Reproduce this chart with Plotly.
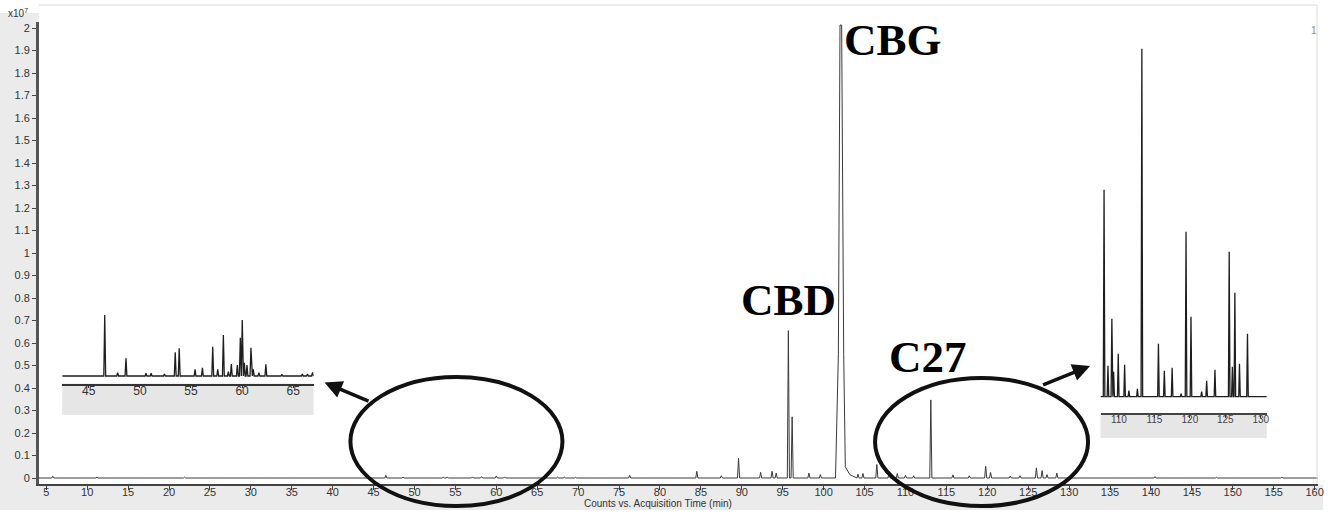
import plotly.graph_objects as go

W, H = 1333, 516

# ---------------- data ----------------
# main chromatogram: retention time (min) and height (x10^7 counts)
MAIN_RT = [5.8, 11.2, 21.9, 46.5, 48.6, 53.5, 54.0, 57.1, 58.2, 60.0, 61.0,
           67.5, 68.3, 69.7, 76.3, 84.5, 87.5, 89.6, 92.3, 93.7, 94.2,
           95.69, 96.15, 98.2, 99.6, 104.2, 104.8, 106.5, 108.0, 109.0,
           110.0, 111.0, 113.1, 115.8, 117.8, 119.8, 120.4, 122.8, 124.0,
           126.0, 126.7, 127.3, 128.5, 140.5, 148.0, 156.0]
MAIN_H = [0.008, 0.004, 0.004, 0.012, 0.004, 0.004, 0.005, 0.005, 0.006,
          0.009, 0.005, 0.004, 0.004, 0.003, 0.012, 0.030, 0.010, 0.088,
          0.025, 0.030, 0.022, 0.655, 0.272, 0.022, 0.015, 0.017, 0.020,
          0.060, 0.025, 0.020, 0.012, 0.010, 0.347, 0.014, 0.010, 0.052,
          0.025, 0.008, 0.010, 0.045, 0.033, 0.015, 0.022, 0.006, 0.003,
          0.004]
# CBG peak profile (broad, tailing)
CBG_RT = [101.45, 101.8, 102.0, 102.2, 102.45, 102.65, 103.2, 104.0]
CBG_H = [0.0, 0.55, 2.013, 2.013, 0.55, 0.05, 0.015, 0.004]

# inset 1 (42-67 min), relative abundance
IN1_RT = [46.56, 47.83, 48.64, 50.6, 51.1, 52.4, 53.46, 53.85, 55.4, 56.12,
          57.13, 57.62, 58.17, 58.66, 58.95, 59.54, 59.83, 60.02, 60.22,
          60.48, 60.87, 61.1, 61.65, 62.33, 63.9, 65.9, 66.4, 66.9]
IN1_H = [61, 3.3, 17.7, 2.7, 2.7, 2, 23.7, 27.7, 6.7, 8.3, 29.3, 6.7, 41,
         4.3, 12, 11, 38.3, 56, 13.3, 11, 28.3, 6.7, 3.3, 11.7, 1.3, 2, 2, 3.7]

# inset 2 (107-131 min), relative abundance
IN2_RT = [107.9, 108.45, 109.0, 109.25, 109.9, 110.8, 111.4, 112.6, 113.23,
          115.57, 116.4, 117.5, 118.76, 119.46, 120.16, 121.66, 122.37,
          123.54, 125.55, 126.0, 126.35, 127.0, 128.13]
IN2_H = [207, 31, 78, 25, 43, 32, 6, 8, 348, 53, 26, 29, 3, 165, 80, 5, 16,
         27, 145, 30, 104, 33, 63]

X_TICKS = list(range(5, 161, 5))
Y_TICKS = [i / 10 for i in range(0, 21)]
Y_TICKTEXT = ["0", "0.1", "0.2", "0.3", "0.4", "0.5", "0.6", "0.7", "0.8",
              "0.9", "1", "1.1", "1.2", "1.3", "1.4", "1.5", "1.6", "1.7",
              "1.8", "1.9", "2"]
IN1_TICKS = [45, 50, 55, 60, 65]
IN2_TICKS = [110, 115, 120, 125, 130]
LABELS = ["CBG", "CBD", "C27"]
X_TITLE = "Counts vs. Acquisition Time (min)"


def build(rt, h, w, start, end, extra_x=(), extra_y=()):
    pts = [(start, 0.0), (end, 0.0)]
    for t, v in zip(rt, h):
        pts += [(t - w, 0.0), (t, v), (t + w, 0.0)]
    pts += list(zip(extra_x, extra_y))
    pts.sort(key=lambda p: p[0])
    return [p[0] for p in pts], [p[1] for p in pts]


def px(x):
    return x / W


def py(y):
    return 1 - y / H


mx, my = build(MAIN_RT, MAIN_H, 0.13, 4.1, 160.4, CBG_RT, CBG_H)
i1x, i1y = build(IN1_RT, IN1_H, 0.09, 42.4, 67.0)
i2x, i2y = build(IN2_RT, IN2_H, 0.11, 107.4, 130.85)

fig = go.Figure()
fig.add_trace(go.Scatter(x=mx, y=my, mode="lines",
                         line=dict(color="#3a3a3a", width=1),
                         xaxis="x", yaxis="y", hoverinfo="skip"))
fig.add_trace(go.Scatter(x=i1x, y=i1y, mode="lines",
                         line=dict(color="#1e1e1e", width=1.3),
                         xaxis="x2", yaxis="y2", hoverinfo="skip"))
fig.add_trace(go.Scatter(x=i2x, y=i2y, mode="lines",
                         line=dict(color="#1e1e1e", width=1.3),
                         xaxis="x3", yaxis="y3", hoverinfo="skip"))

tickfont = dict(family="Liberation Sans Narrow, Liberation Sans, Arial", size=11, color="#333")

# main axes
x_lo_px, x_hi_px = 39, 1324
y_bot_px, y_top_px = 483.5, 22
fig.update_layout(
    width=W, height=H, margin=dict(l=0, r=0, t=0, b=0),
    paper_bgcolor="white", plot_bgcolor="rgba(0,0,0,0)",
    showlegend=False,
    xaxis=dict(domain=[px(x_lo_px), px(x_hi_px)], range=[4.088, 160.42],
               tickvals=X_TICKS, ticks="outside", ticklen=5, tickwidth=1,
               tickcolor="#444", showline=True, linecolor="#444", linewidth=1.5,
               showgrid=False, zeroline=False, tickfont=tickfont, anchor="y",
               ticklabelstandoff=-7),
    yaxis=dict(domain=[py(y_bot_px), py(y_top_px)],
               range=[(478 - y_bot_px) / 225, (478 - y_top_px) / 225],
               tickvals=Y_TICKS, ticktext=Y_TICKTEXT, ticks="outside",
               ticklen=4, tickwidth=1, tickcolor="#444", showline=True,
               linecolor="#555", linewidth=2.5, showgrid=False,
               zeroline=False, tickfont=tickfont, anchor="x"),
    # inset 1
    xaxis2=dict(domain=[px(62.5), px(315)], range=[42.4, 67.0],
                tickvals=IN1_TICKS, ticks="outside", ticklen=3,
                tickcolor="#333", showline=True, linecolor="#333",
                linewidth=1.5, showgrid=False, zeroline=False,
                tickfont=dict(family="Liberation Sans", size=12, color="#333"),
                anchor="y2", ticklabelstandoff=-8),
    yaxis2=dict(domain=[py(383.5), py(310)], range=[-7.5, 66],
                visible=False, anchor="x2"),
    # inset 2
    xaxis3=dict(domain=[px(1105.5), px(1272.5)], range=[107.4, 130.85],
                tickvals=IN2_TICKS, ticks="outside", ticklen=3,
                tickcolor="#333", showline=True, linecolor="#444",
                linewidth=1.5, showgrid=False, zeroline=False,
                tickfont=dict(family="Liberation Sans", size=10, color="#444"),
                anchor="y3", ticklabelstandoff=-7),
    yaxis3=dict(domain=[py(413.3), py(45)], range=[-16.6, 351.7],
                visible=False, anchor="x3"),
)

shapes = []
grey = "#ebebeb"
# left and bottom grey panels
shapes.append(dict(type="rect", xref="paper", yref="paper", x0=px(0), x1=px(39),
                   y0=py(510), y1=py(13), fillcolor=grey, line_width=0, layer="below"))
shapes.append(dict(type="rect", xref="paper", yref="paper", x0=px(0), x1=px(1329),
                   y0=py(510), y1=py(484.5), fillcolor=grey, line_width=0, layer="below"))
# top / right light border
shapes.append(dict(type="line", xref="paper", yref="paper", x0=px(39), x1=px(1323),
                   y0=py(5), y1=py(5), line=dict(color="#dcdcdc", width=1)))
shapes.append(dict(type="line", xref="paper", yref="paper", x0=px(1323), x1=px(1323),
                   y0=py(5), y1=py(484), line=dict(color="#dcdcdc", width=1)))
# inset grey boxes
shapes.append(dict(type="rect", xref="paper", yref="paper", x0=px(62.5), x1=px(315),
                   y0=py(415), y1=py(383.5), fillcolor="#e6e6e6", line_width=0, layer="below"))
shapes.append(dict(type="rect", xref="paper", yref="paper", x0=px(1105.5), x1=px(1272.5),
                   y0=py(438), y1=py(413.3), fillcolor="#e6e6e6", line_width=0, layer="below"))
# ellipses
shapes.append(dict(type="circle", xref="paper", yref="paper", x0=px(352), x1=px(565),
                   y0=py(506), y1=py(377), line=dict(color="#111", width=4)))
shapes.append(dict(type="circle", xref="paper", yref="paper", x0=px(879), x1=px(1093),
                   y0=py(506), y1=py(378), line=dict(color="#111", width=4)))
fig.update_layout(shapes=shapes)

ann = []
label_pos = [(897, 40), (792, 300), (932, 357)]
for lab, (lx, ly) in zip(LABELS, label_pos):
    ann.append(dict(xref="paper", yref="paper", x=px(lx), y=py(ly),
                    text="<b>" + lab + "</b>", showarrow=False,
                    xanchor="center", yanchor="middle",
                    font=dict(family="Liberation Serif", size=45, color="black")))
# arrows
ann.append(dict(xref="paper", yref="paper", x=px(326), y=py(382.5), ax=47, ay=20,
                axref="pixel", ayref="pixel", text=" ", showarrow=True,
                arrowhead=2, arrowsize=1, arrowwidth=3.5, arrowcolor="#111"))
ann.append(dict(xref="paper", yref="paper", x=px(1095), y=py(366), ax=-50, ay=20,
                axref="pixel", ayref="pixel", text=" ", showarrow=True,
                arrowhead=2, arrowsize=1, arrowwidth=3.5, arrowcolor="#111"))
# axis title, multiplier, trace number
ann.append(dict(xref="paper", yref="paper", x=px(661), y=py(503), text=X_TITLE,
                showarrow=False, xanchor="center", yanchor="middle",
                font=dict(family="Liberation Sans Narrow, Liberation Sans", size=10, color="#333")))
ann.append(dict(xref="paper", yref="paper", x=px(6), y=py(13), text="x10<sup>7</sup>",
                showarrow=False, xanchor="left", yanchor="middle",
                font=dict(family="Liberation Sans Narrow, Liberation Sans", size=10, color="#333")))
ann.append(dict(xref="paper", yref="paper", x=px(1320), y=py(31), text="1",
                showarrow=False, xanchor="center", yanchor="middle",
                font=dict(family="Liberation Sans", size=10, color="#888")))
fig.update_layout(annotations=ann)

fig.write_html("out.html", config={"displayModeBar": False},
               post_script="document.body.style.margin='0';document.body.style.overflow='hidden';")
